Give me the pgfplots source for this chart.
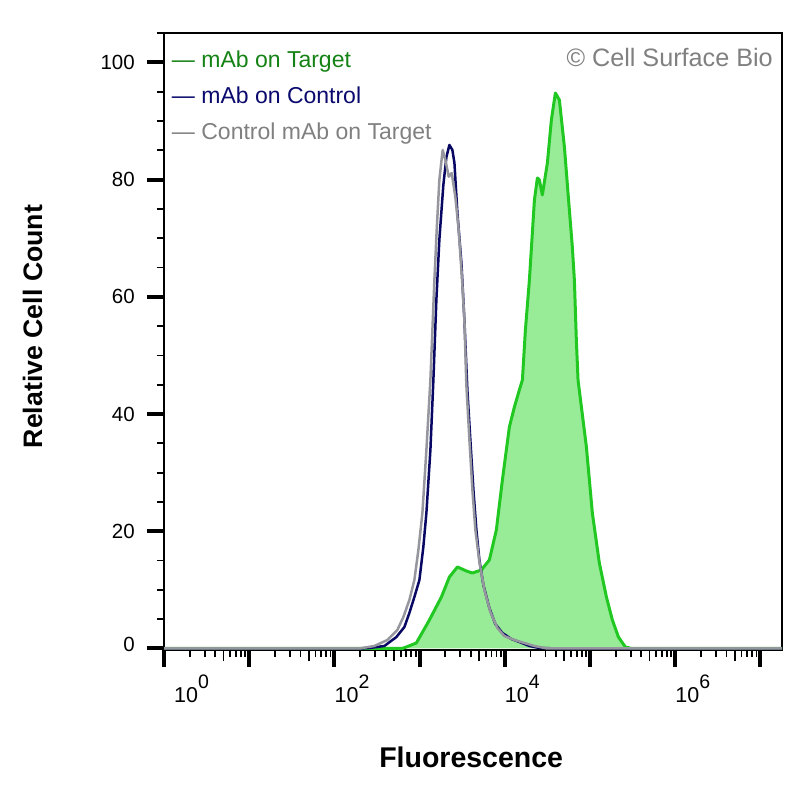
\documentclass[border=0pt]{standalone}
\usepackage{fontspec}
\setmainfont{Liberation Sans}
\usepackage{pgfplots}
\pgfplotsset{compat=1.18}
\definecolor{cgreen}{RGB}{34,200,34}
\definecolor{cfill}{RGB}{152,236,152}
\definecolor{cnavy}{RGB}{8,8,100}
\definecolor{cgray}{RGB}{150,150,158}
\definecolor{tgreen}{RGB}{20,130,20}
\definecolor{tnavy}{RGB}{10,10,110}
\definecolor{tgray}{RGB}{128,128,128}
\newcommand\tl[1]{10\raisebox{14bp}{\fontsize{19.5bp}{19bp}\selectfont #1}}
\begin{document}
\begin{tikzpicture}
\useasboundingbox (0,0) rectangle (800bp,800bp);
\begin{axis}[
  at={(164bp,150bp)}, anchor=south west,
  scale only axis, width=618bp, height=617bp,
  xmin=0, xmax=7.254, ymin=-0.256, ymax=105.03,
  axis line style={line width=1.2bp, black},
  tick align=outside, xtick pos=bottom, ytick pos=left,
  major tick length=17bp, minor tick length=7bp,
  every major tick/.append style={line width=4bp, black},
  every minor tick/.append style={line width=1.8bp, black},
  xtick={0,1,2,3,4,5,6,7},
  xticklabels={\hspace*{10bp}\tl{0},{},\tl{2},{},\tl{4},{},\tl{6},{}},
  minor xtick={0.30103,0.47712,0.60206,0.77815,0.84510,0.90309,0.95424,
    1.30103,1.47712,1.60206,1.77815,1.84510,1.90309,1.95424,
    2.30103,2.47712,2.60206,2.77815,2.84510,2.90309,2.95424,
    3.30103,3.47712,3.60206,3.77815,3.84510,3.90309,3.95424,
    4.30103,4.47712,4.60206,4.77815,4.84510,4.90309,4.95424,
    5.30103,5.47712,5.60206,5.77815,5.84510,5.90309,5.95424,
    6.30103,6.47712,6.60206,6.77815,6.84510,6.90309,6.95424},
  extra x ticks={0.69897,1.69897,2.69897,3.69897,4.69897,5.69897,6.69897},
  extra x tick labels={},
  extra x tick style={major tick length=11bp, major tick style={line width=1.8bp, black}},
  ytick={0,20,40,60,80,100},
  yticklabels={\raisebox{9bp}{0},20,40,60,80,100},
  minor ytick={5,10,15,25,30,35,45,50,55,65,70,75,85,90,95,105},
  xticklabel style={anchor=north west, inner sep=0pt, yshift=-8bp, font=\fontsize{21.5bp}{24bp}\selectfont},
  yticklabel style={anchor=east, inner sep=0pt, xshift=-12bp, font=\fontsize{20.5bp}{24bp}\selectfont},
  xlabel={Fluorescence},
  ylabel={Relative Cell Count},
  xlabel style={at={(axis description cs:0.497,-0.191)}, anchor=base, inner sep=0pt, font=\bfseries\fontsize{28.5bp}{30bp}\selectfont},
  ylabel style={at={(axis description cs:-0.1974,0.5243)}, anchor=base, inner sep=0pt, font=\bfseries\fontsize{26.7bp}{30bp}\selectfont},
]
% mAb on Target (green, filled)
\addplot[draw=cgreen, line width=3bp, fill=cfill, line join=round] coordinates {
(0,0) (2.798,0) (2.962,0.94) (3.115,4.86) (3.256,8.79) (3.350,12.20) (3.444,13.91)
(3.549,13.23) (3.620,12.88) (3.725,13.40) (3.819,15.10) (3.901,20.22) (3.972,28.75)
(4.054,37.80) (4.113,41.21) (4.171,44.11) (4.207,45.82) (4.242,54.35) (4.289,62.88)
(4.348,76.54) (4.383,80.29) (4.406,79.95) (4.441,77.39) (4.500,82.85) (4.547,90.19)
(4.594,94.79) (4.641,93.60) (4.700,85.58) (4.746,77.05) (4.793,68.52) (4.817,62.88)
(4.840,52.65) (4.860,45.82) (4.958,34.39) (5.028,23.12) (5.110,14.59) (5.193,8.79)
(5.263,4.86) (5.334,1.96) (5.415,0.26) (5.493,0) (7.254,0)
};
% mAb on Control (navy)
\addplot[draw=cnavy, line width=2.5bp, line join=round] coordinates {
(0,0) (2.300,0) (2.411,0.09) (2.587,0.43) (2.728,1.96) (2.822,3.67) (2.880,6.06)
(2.939,8.79) (2.998,11.69) (3.044,17.32) (3.080,23.12) (3.127,33.87) (3.162,45.82)
(3.197,59.47) (3.232,69.71) (3.279,79.10) (3.315,83.87) (3.350,85.92) (3.385,85.07)
(3.409,82.85) (3.444,74.32) (3.491,65.78) (3.526,56.06) (3.561,44.11) (3.596,35.58)
(3.632,27.05) (3.667,20.22) (3.702,15.10) (3.749,10.84) (3.819,6.91) (3.889,4.18)
(3.972,2.65) (4.077,1.62) (4.171,1.11) (4.289,0.43) (4.406,0.09) (4.641,0) (7.254,0)
};
% Control mAb on Target (gray)
\addplot[draw=cgray, line width=2.5bp, line join=round] coordinates {
(0,0) (2.293,0) (2.469,0.43) (2.622,1.45) (2.739,3.16) (2.810,5.38) (2.880,8.28)
(2.939,11.69) (2.986,16.81) (3.033,23.12) (3.080,33.87) (3.127,45.82) (3.174,62.88)
(3.201,71.42) (3.232,79.95) (3.271,85.07) (3.303,83.36) (3.342,80.51) (3.377,81.14)
(3.420,77.05) (3.459,71.42) (3.499,62.88) (3.526,56.06) (3.549,44.97) (3.585,35.58)
(3.620,27.05) (3.655,20.22) (3.702,14.76) (3.761,9.98) (3.831,6.23) (3.913,3.50)
(3.995,2.13) (4.113,1.45) (4.230,0.94) (4.348,0.43) (4.500,0) (7.254,0)
};
\node[anchor=base west, inner sep=0pt, text=tgreen, font=\fontsize{23bp}{26bp}\selectfont] at (rel axis cs:0.0126,0.9444) {— mAb on Target};
\node[anchor=base west, inner sep=0pt, text=tnavy, font=\fontsize{23bp}{26bp}\selectfont] at (rel axis cs:0.0126,0.8861) {— mAb on Control};
\node[anchor=base west, inner sep=0pt, text=tgray, font=\fontsize{23bp}{26bp}\selectfont] at (rel axis cs:0.0126,0.8277) {— Control mAb on Target};
\node[anchor=base east, inner sep=0pt, text=tgray, font=\fontsize{25.2bp}{26bp}\selectfont] at (rel axis cs:0.9854,0.9449) {© Cell Surface Bio};
\end{axis}
\end{tikzpicture}
\end{document}
